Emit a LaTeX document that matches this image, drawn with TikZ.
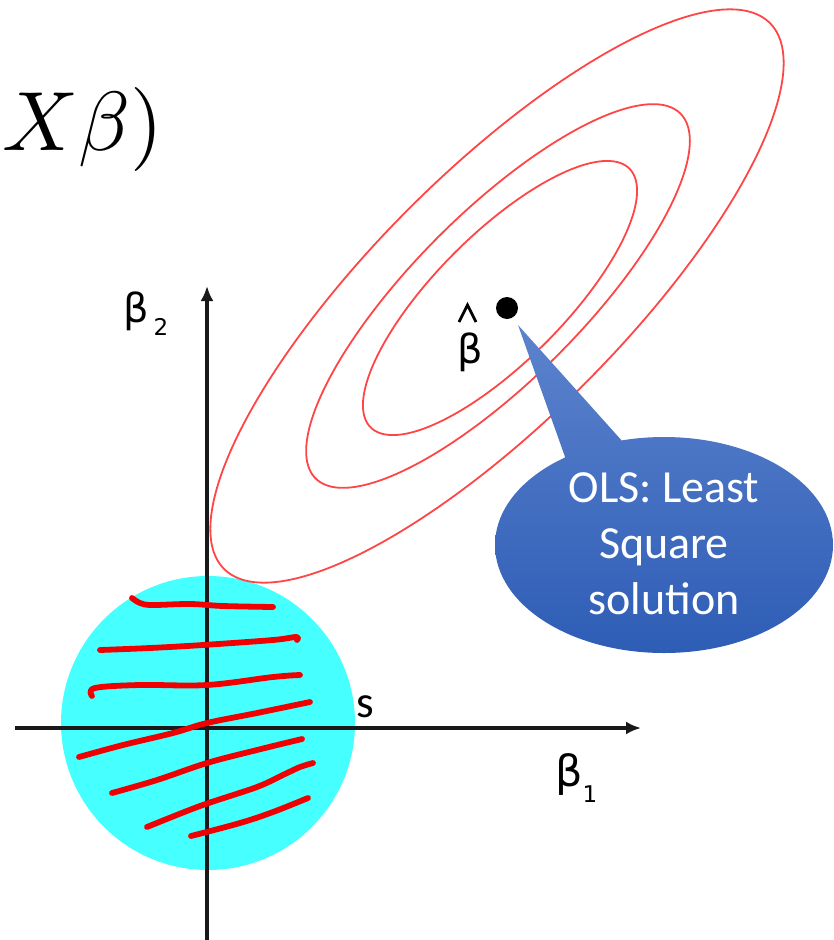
\documentclass[tikz,border=0pt]{standalone}
\usepackage{fontspec}
\usetikzlibrary{arrows.meta}
\newfontfamily\calfont{Carlito}
\newfontfamily\dvfont{DejaVu Sans}
\definecolor{ballcyan}{RGB}{70,255,255}
\definecolor{contred}{RGB}{255,70,70}
\definecolor{scribred}{RGB}{240,0,0}
\definecolor{calltop}{RGB}{92,131,205}
\definecolor{callbot}{RGB}{46,93,182}
\definecolor{axisgray}{RGB}{25,25,25}
\tikzset{
  axisline/.style={draw=axisgray, line width=3.2pt, -{Latex[length=15pt,width=13pt]}},
  contour/.style={draw=contred, line width=1.8pt},
  scrib/.style={draw=scribred, line width=5.8pt, line cap=round, line join=round},
  greek/.style={font=\dvfont\fontsize{40}{44}\selectfont, inner sep=0pt, anchor=base west},
  callouttext/.style={font=\calfont\fontsize{46}{56}\selectfont, text=white, align=center, inner sep=0pt},
}
\begin{document}
\begin{tikzpicture}[x=1pt,y=-1pt]
\useasboundingbox (0,0) rectangle (833,940);
% formula fragment
\node[anchor=base west, inner sep=0pt, scale=8.4] (formula) at (1,150) {$X\beta)$};
% constraint disc
\fill[ballcyan] (208,723) circle[radius=147];
% axes
\coordinate (xstart) at (15,728);
\coordinate (xend) at (641,728);
\coordinate (ystart) at (207,940);
\coordinate (yend) at (207,286);
\draw[axisline] (xstart) -- (xend);
\draw[axisline] (ystart) -- (yend);
% red scribbles
\draw[scrib] plot[smooth, tension=0.6] coordinates {(132,598) (140,603) (152,605) (190,604) (223,606) (273,607)};
\draw[scrib] plot[smooth, tension=0.6] coordinates {(100,650) (150,648) (203,645) (273,640) (296,637) (297,640)};
\draw[scrib] plot[smooth, tension=0.6] coordinates {(92,696) (95,688) (140,685) (207,685) (273,677) (300,675)};
\draw[scrib] plot[smooth, tension=0.6] coordinates {(79,757) (123,745) (173,733) (207,723) (257,713) (310,702)};
\draw[scrib] plot[smooth, tension=0.6] coordinates {(112,793) (157,780) (207,763) (257,750) (302,739)};
\draw[scrib] plot[smooth, tension=0.5] coordinates {(147,827) (200,806) (257,787) (285,774) (300,767) (313,763)};
\draw[scrib] plot[smooth, tension=0.6] coordinates {(191,836) (240,823) (273,812) (308,798)};
% contour ellipses
\draw[contour] plot[domain=0:360, samples=160, smooth] ({497+0.7071*(386*cos(\x)-124*sin(\x))},{296-0.7071*(386*cos(\x)+124*sin(\x))});
\draw[contour] plot[domain=0:360, samples=140, smooth] ({498+0.7071*(258*cos(\x)-84*sin(\x))},{296-0.7071*(258*cos(\x)+84*sin(\x))});
\draw[contour] plot[domain=0:360, samples=120, smooth] ({500+0.7071*(183*cos(\x)-64*sin(\x))},{298-0.7071*(183*cos(\x)+64*sin(\x))});
% labels
\node[greek] (b2) at (123,322) {β\kern5pt\raisebox{-13pt}{\fontsize{23}{25}\selectfont 2}};
\node[greek, font=\dvfont\fontsize{43}{46}\selectfont] (b1) at (555,786) {β\raisebox{-16pt}{\fontsize{23}{25}\selectfont 1}};
\node[font=\calfont\fontsize{45}{50}\selectfont, inner sep=0pt, anchor=base west] (s) at (356,717) {s};
\node[greek] (bhatlabel) at (457,363) {β};
\draw[line width=2.8pt, line join=miter] (459,322) -- (467.5,305) -- (476,322);
\node[circle, fill=black, minimum size=22pt, inner sep=0pt] (bhat) at (507,308) {};
% callout
\coordinate (tip) at (518,325);
\shade[top color=calltop, bottom color=callbot] (664,545) ellipse[x radius=169, y radius=108]
  (tip) -- (632,452) -- (569,468) -- cycle;
\node[callouttext] (ols) at (664,544) {OLS: Least\\Square\\solution};
\end{tikzpicture}
\end{document}
